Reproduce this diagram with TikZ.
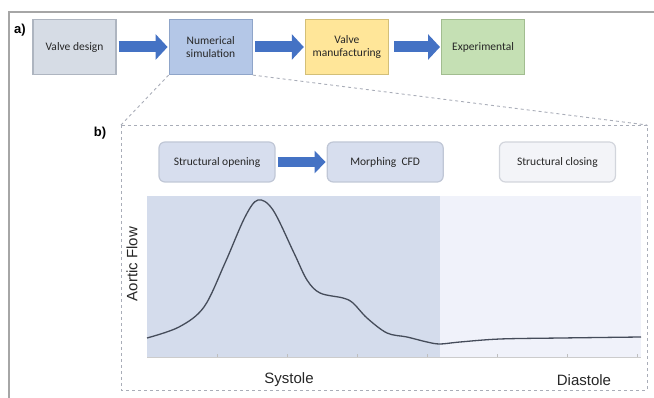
\documentclass[tikz,border=0pt]{standalone}
\usepackage{xcolor}
\usepackage{fontspec}
\setmainfont{Carlito}
\newfontfamily\arialfont{Liberation Sans}
\usepackage{tikz}
\usetikzlibrary{calc}
\usetikzlibrary{arrows.meta}
\usetikzlibrary{positioning}
\definecolor{stepblue}{HTML}{4472C4}
\definecolor{framegray}{HTML}{A6A6A6}
\definecolor{dashgray}{HTML}{A9ADB8}
\definecolor{vdfill}{HTML}{D6DCE5}
\definecolor{vdline}{HTML}{AEB5C0}
\definecolor{nsfill}{HTML}{B4C7E7}
\definecolor{nsline}{HTML}{8FA5C9}
\definecolor{vmfill}{HTML}{FFE699}
\definecolor{vmline}{HTML}{D3BF78}
\definecolor{exfill}{HTML}{C5E0B4}
\definecolor{exline}{HTML}{A2BD90}
\definecolor{phfill}{HTML}{D7DEEE}
\definecolor{phline}{HTML}{C0C7D6}
\definecolor{scfill}{HTML}{F3F4F8}
\definecolor{scline}{HTML}{D2D5DC}
\definecolor{sysfill}{HTML}{D4DCEC}
\definecolor{diafill}{HTML}{F0F2FA}
\definecolor{curvegray}{HTML}{454C5A}
\tikzset{>=latex}
\tikzstyle{stage} = [draw, line width=1.2pt, minimum width=83pt, minimum height=55pt, align=center, text=black!85, font=\fontsize{11.5}{12.5}\selectfont, inner sep=2]
\tikzstyle{phase} = [stage, rounded corners=6pt, minimum width=116pt, minimum height=40pt, fill=phfill, draw=phline]
\tikzstyle{fatarrow} = [draw=stepblue, line width=11pt, -{Triangle[length=12pt, width=25pt]}, shorten <=2pt, shorten >=1pt]
\tikzstyle{zoomline} = [draw=dashgray, dashed, line width=0.9pt]
\tikzstyle{axislabel} = [font=\arialfont\fontsize{15}{16}\selectfont, text=black!85]

\begin{document}
\begin{tikzpicture}[x=1pt, y=-1pt]
\useasboundingbox (0,0) rectangle (654,398);
\draw [draw=framegray, line width=2pt] (9,398) |- (654,12);
%\node [draw=none, font=\bfseries] at (20,30) {Workflow};
\node [font=\arialfont\bfseries\fontsize{13}{14}\selectfont] (lbla) at (20,30) {a)};
\node [font=\arialfont\bfseries\fontsize{13}{14}\selectfont] (lblb) at (100,133) {b)};

\node [stage, fill=vdfill, draw=vdline] (vd) at (74.5, 47) {Valve design};
\node [stage, fill=nsfill, draw=nsline, right=52pt of vd] (ns) {Numerical\\simulation};
\node [stage, fill=vmfill, draw=vmline, right=52pt of ns] (vm) {Valve\\manufacturing};
\node [stage, fill=exfill, draw=exline, right=52pt of vm] (ex) {Experimental};
\draw [fatarrow] (vd) to (ns);
\draw [fatarrow] (ns) to (vm);
\draw [fatarrow, shorten <=5pt] (vm) to (ex);

\coordinate (bnw) at (121,125);
\coordinate (bse) at (647,390);
\draw [zoomline] (bnw) rectangle (bse);
\draw [zoomline] (ns.south west) to (bnw);
\draw [zoomline] (ns.south east) to (bnw -| bse);

\node [phase] (so) at (217, 162) {Structural opening};
\node [phase, right=51pt of so] (cfd) {Morphing\ \ CFD};
\node [phase, fill=scfill, draw=scline, right=55pt of cfd] (sc) {Structural closing};
\draw [fatarrow, line width=10pt, -{Triangle[length=11pt, width=22pt]}] (so) to (cfd);

\fill [sysfill] (147,196) rectangle (440,357);
\fill [diafill] (440,196) rectangle (641,357);
\draw [draw=black!20, line width=0.6pt] (147,357) -- (641,357);
\foreach \tx in {217,287,357,427,497,567,637}
  \draw [draw=black!25, line width=0.6pt] (\tx,357) -- (\tx,354);
\draw [draw=curvegray, line width=1.3pt] plot [smooth, tension=0.55] coordinates {(147,338) (179,327) (204,307) (225,263) (245,217) (258,200) (273,210) (294,253) (307,280) (320,293) (343,298) (353,303) (367,318) (387,333) (407,337) (427,342) (440,344) (460,342) (500,339) (561,338) (641,337)};

\node [axislabel, rotate=90] (flow) at (132,264) {Aortic Flow};
\node [axislabel] (sys) at (289,380) {Systole};
\node [axislabel] (dia) at (584,380) {Diastole};
\end{tikzpicture}
\end{document}
